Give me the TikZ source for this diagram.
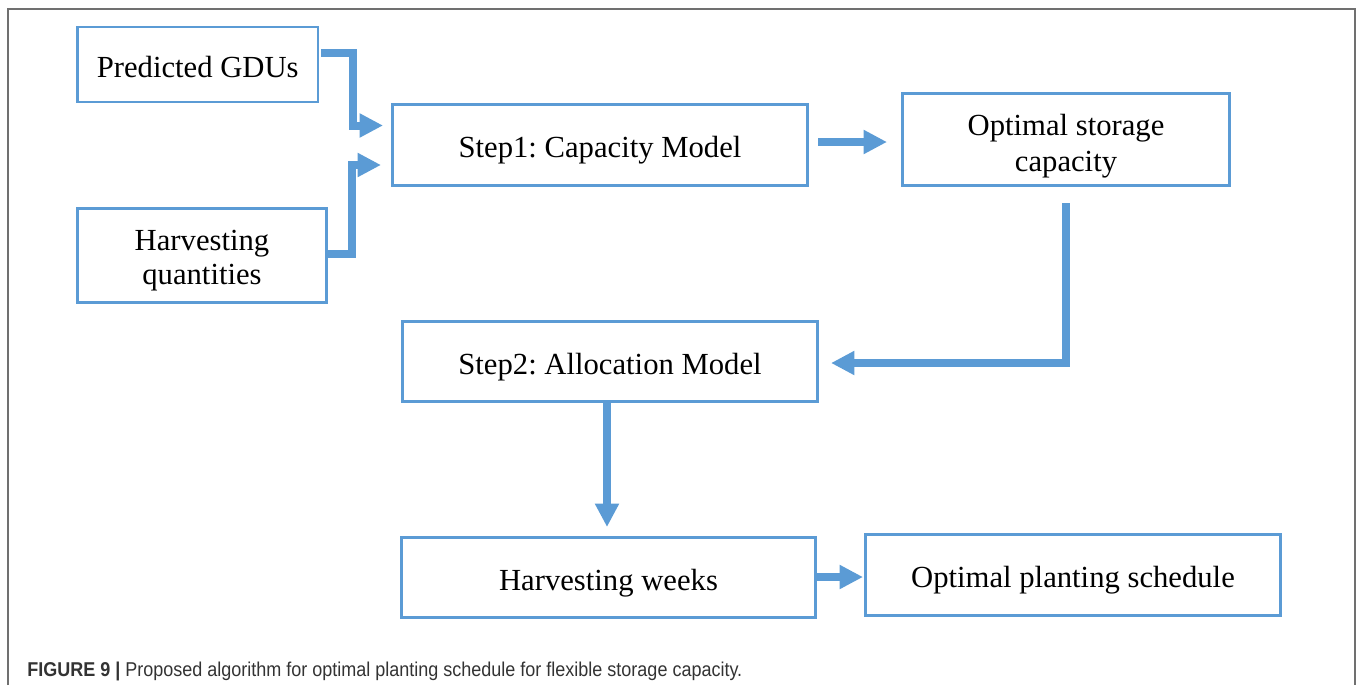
\documentclass[tikz,border=0pt]{standalone}
\usepackage{fontspec}
\setmainfont{Liberation Serif}
\newfontfamily\capfont[FakeStretch=0.9]{Liberation Sans}
\usetikzlibrary{arrows.meta}
\definecolor{flowblue}{HTML}{5B9BD5}
\definecolor{framegray}{HTML}{707070}
\definecolor{captext}{HTML}{333333}
\newcommand{\twolines}[2]{\begin{tabular}[b]{@{}c@{}}#1\\#2\end{tabular}}

\begin{document}
\begin{tikzpicture}[x=0.75pt,y=-0.75pt,
  box/.style={draw=flowblue, line width=1.9pt, fill=white, inner sep=0pt,
    outer sep=0pt, font=\fontsize{23}{25}\selectfont\frenchspacing,
    text height=18.75pt, text depth=0pt},
  tallbox/.style={box, text height=43pt},
  wh/.style 2 args={minimum width=#1*0.75pt, minimum height=#2*0.75pt},
  flow/.style={draw=flowblue, line width=6pt, line join=miter,
    -{Triangle[length=17.5pt,width=17pt]}},
]
\useasboundingbox (0,0) rectangle (1358,685);

% open frame round the figure
\draw[framegray, line width=1pt] (8,685) -- (8,9) -- (1355,9) -- (1355,685);

% boxes
\node[box, wh={240.5}{75}]   (gdu) at (197.75,64.5) {Predicted GDUs};
\node[tallbox, wh={249}{94}] (hq)  at (202,255.5) {\twolines{Harvesting}{quantities}};
\node[box, wh={415}{81}]     (s1)  at (600,145) {Step1: Capacity Model};
\node[tallbox, wh={327}{92}, text height=47.5pt, font=\fontsize{23}{26.5}\selectfont]
                             (oss) at (1066,139.5) {\twolines{Optimal storage}{capacity}};
\node[box, wh={415}{80}]     (s2)  at (610,361.5) {Step2: Allocation Model};
\node[box, wh={414}{80}]     (hw)  at (608.5,577.5) {Harvesting weeks};
\node[box, wh={415}{81}]     (ops) at (1073,575) {Optimal planting schedule};

% connectors
\draw[flow] ([shift={(3,-11)}]gdu.east) -| ([shift={(-40,-19.5)}]s1.west)
  -- ([shift={(-9.5,-19.5)}]s1.west);
\draw[flow] ([shift={(1,-2)}]hq.east) -| ([shift={(-40.5,20)}]s1.west)
  -- ([shift={(-11.5,20)}]s1.west);
\draw[flow] ([shift={(10.5,-3)}]s1.east) -- ([shift={(-15.5,2.5)}]oss.west);
\draw[flow] ([shift={(-0.5,17.5)}]oss.south) |- ([shift={(13.5,1.5)}]s2.east);
\draw[flow] ([shift={(-3,0)}]s2.south) -- ([shift={(-1.5,-10.5)}]hw.north);
\draw[flow] ([shift={(0,-0.5)}]hw.east) -- ([shift={(-2.5,2)}]ops.west);

% caption
\node[anchor=base west, inner sep=0pt, text=captext] (cap) at (27,676)
  {\capfont\fontsize{15}{18}\selectfont\textbf{FIGURE 9 |} Proposed algorithm for optimal planting schedule for flexible storage capacity.};
\end{tikzpicture}
\end{document}
